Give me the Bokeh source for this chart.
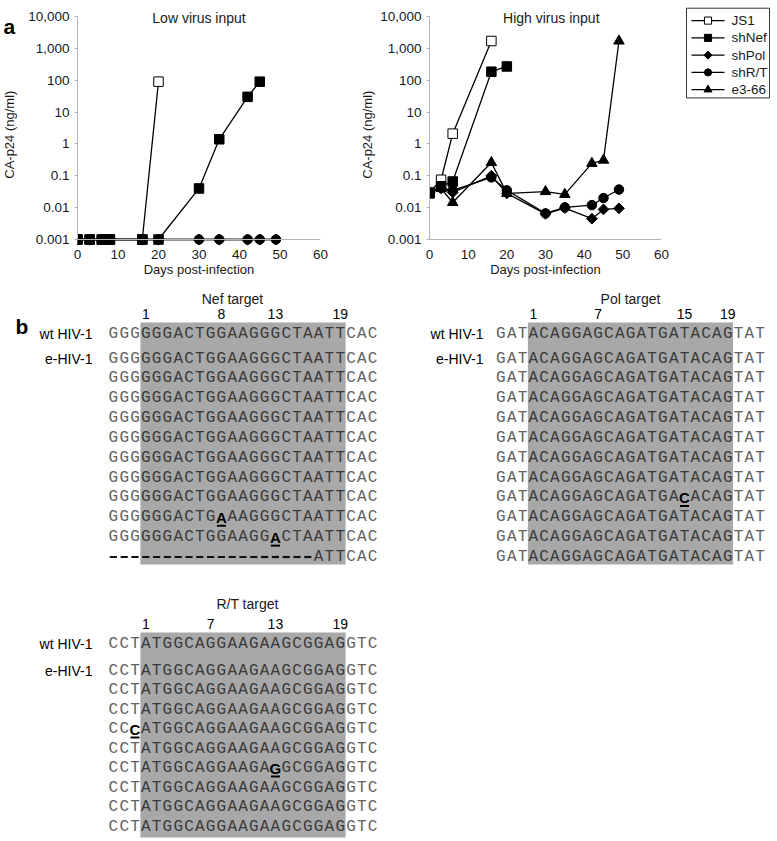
import math
from bokeh.plotting import figure
from bokeh.models import Range1d, FixedTicker, CustomJSTickFormatter, Label, Span
from bokeh.layouts import column, row
from bokeh.embed import file_html
from bokeh.resources import INLINE
from bokeh.core.properties import value

SANS = "Liberation Sans"
MONO = "Liberation Mono"
TXT = "#1a1a1a"
AXIS_GRAY = "#b4b4b4"

# ------------------------------------------------------------------ data
series_names = ["JS1", "shNef", "shPol", "shR/T", "e3-66"]
series_markers = ["square", "square", "diamond", "circle", "triangle"]
series_fills = ["white", "black", "black", "black", "black"]

ytick_vals = [0.001, 0.01, 0.1, 1, 10, 100, 1000, 10000]
ytick_labels = ["0.001", "0.01", "0.1", "1", "10", "100", "1,000", "10,000"]
xtick_vals = [0, 10, 20, 30, 40, 50, 60]

# Low virus input
low_js1_days = [0, 3, 6, 8, 16, 20]
low_js1_vals = [0.001, 0.001, 0.001, 0.001, 0.001, 90]
low_shnef_days = [0, 3, 6, 8, 16, 20, 30, 35, 42, 45]
low_shnef_vals = [0.001, 0.001, 0.001, 0.001, 0.001, 0.001, 0.04, 1.4, 30, 90]
low_shpol_days = [0, 3, 6, 8, 16, 20, 30, 35, 42, 45, 49]
low_shpol_vals = [0.001, 0.001, 0.001, 0.001, 0.001, 0.001, 0.001, 0.001, 0.001, 0.001, 0.001]
low_shrt_days = [0, 3, 6, 8, 16, 20, 30, 35, 42, 45, 49]
low_shrt_vals = [0.001, 0.001, 0.001, 0.001, 0.001, 0.001, 0.001, 0.001, 0.001, 0.001, 0.001]

# High virus input
high_js1_days = [0, 3, 6, 16]
high_js1_vals = [0.03, 0.075, 2.1, 1700]
high_shnef_days = [0, 3, 6, 16, 20]
high_shnef_vals = [0.028, 0.047, 0.066, 185, 270]
high_shpol_days = [0, 3, 6, 16, 20, 30, 35, 42, 45, 49]
high_shpol_vals = [0.03, 0.04, 0.03, 0.1, 0.028, 0.0064, 0.0097, 0.0045, 0.0088, 0.0095]
high_shrt_days = [0, 3, 6, 16, 20, 30, 35, 42, 45, 49]
high_shrt_vals = [0.03, 0.042, 0.035, 0.089, 0.035, 0.0066, 0.0102, 0.012, 0.02, 0.037]
high_e366_days = [0, 3, 6, 16, 20, 30, 35, 42, 45, 49]
high_e366_vals = [0.03, 0.04, 0.0145, 0.26, 0.028, 0.032, 0.026, 0.245, 0.31, 1700]

# Sequences (panel b)
nef_wt = "GGGGGGACTGGAAGGGCTAATTCAC"
nef_rows = ["GGGGGGACTGGAAGGGCTAATTCAC"] * 8 + [
    "GGGGGGACTGAAAGGGCTAATTCAC",
    "GGGGGGACTGGAAGGACTAATTCAC",
    "-------------------ATTCAC",
]
nef_numbers = [1, 8, 13, 19]

pol_wt = "GATACAGGAGCAGATGATACAGTAT"
pol_rows = ["GATACAGGAGCAGATGATACAGTAT"] * 7 + [
    "GATACAGGAGCAGATGACACAGTAT",
] + ["GATACAGGAGCAGATGATACAGTAT"] * 3
pol_numbers = [1, 7, 15, 19]

rt_wt = "CCTATGGCAGGAAGAAGCGGAGGTC"
rt_rows = ["CCTATGGCAGGAAGAAGCGGAGGTC"] * 3 + [
    "CCCATGGCAGGAAGAAGCGGAGGTC",
    "CCTATGGCAGGAAGAAGCGGAGGTC",
    "CCTATGGCAGGAAGAGGCGGAGGTC",
] + ["CCTATGGCAGGAAGAAGCGGAGGTC"] * 3
rt_numbers = [1, 7, 13, 19]

low_data = {
    "JS1": (low_js1_days, low_js1_vals),
    "shNef": (low_shnef_days, low_shnef_vals),
    "shPol": (low_shpol_days, low_shpol_vals),
    "shR/T": (low_shrt_days, low_shrt_vals),
}
high_data = {
    "JS1": (high_js1_days, high_js1_vals),
    "shNef": (high_shnef_days, high_shnef_vals),
    "shPol": (high_shpol_days, high_shpol_vals),
    "shR/T": (high_shrt_days, high_shrt_vals),
    "e3-66": (high_e366_days, high_e366_vals),
}

# marker style: (bokeh marker, size, angle)
MSTYLE = {"square": ("square", 9.5, 0.0), "diamond": ("square", 7.6, math.pi / 4),
          "circle": ("circle", 9.5, 0.0), "triangle": ("triangle", 10.5, 0.0)}
DRAW_ORDER = ["shPol", "shR/T", "e3-66", "JS1", "shNef"]

ROW1_H = 282
DEC_PX = 31.86                     # pixels per decade
Y_TOP = 4 + 10 / DEC_PX            # frame extends 10px above the 10,000 tick
Y_BOT = -3 - 8 / DEC_PX            # and 8px below the 0.001 axis


def chart(width, left, right, title, title_x, data):
    p = figure(width=width, height=ROW1_H, y_axis_type="log",
               x_range=Range1d(0, 60), y_range=Range1d(10 ** Y_BOT, 10 ** Y_TOP),
               output_backend="svg", toolbar_location=None, tools="",
               min_border_left=left, min_border_right=right,
               min_border_top=6, min_border_bottom=35,
               background_fill_color="white", border_fill_color="white",
               outline_line_color=None)
    p.grid.visible = False
    p.yaxis.ticker = FixedTicker(ticks=ytick_vals)
    p.yaxis.bounds = (ytick_vals[0], ytick_vals[-1])
    p.yaxis.formatter = CustomJSTickFormatter(
        args=dict(vals=ytick_vals, labs=ytick_labels),
        code="const i = vals.findIndex(v => Math.abs(Math.log10(v) - Math.log10(tick)) < 1e-6);"
             "return i >= 0 ? labs[i] : '';")
    p.xaxis.ticker = FixedTicker(ticks=xtick_vals)
    for ax in p.axis:
        ax.minor_tick_line_color = None
        ax.axis_line_color = AXIS_GRAY
        ax.major_tick_line_color = AXIS_GRAY
        ax.major_tick_out = 3
        ax.major_tick_in = 0
        ax.major_label_text_font = SANS
        ax.major_label_text_font_size = "13.5px"
        ax.major_label_text_color = TXT
        ax.major_label_standoff = 5
        ax.axis_label_text_font = SANS
        ax.axis_label_text_font_size = "13px"
        ax.axis_label_text_font_style = "normal"
        ax.axis_label_text_color = TXT
    # x axis line is drawn at 0.001 (inside the frame); the axis itself only carries labels
    p.xaxis.axis_line_color = None
    p.xaxis.major_tick_line_color = None
    p.xaxis.major_tick_out = 0
    p.xaxis.major_label_standoff = 2
    p.xaxis.axis_label = "Days post-infection"
    p.xaxis.axis_label_standoff = 0
    p.add_layout(Span(location=ytick_vals[0], dimension="width",
                      line_color=AXIS_GRAY, line_width=1))

    for name in DRAW_ORDER:
        if name in data:
            d, v = data[name]
            p.line(d, v, line_color="black", line_width=1.3)
    for name in DRAW_ORDER:
        if name in data:
            d, v = data[name]
            k = series_names.index(name)
            mk, sz, ang = MSTYLE[series_markers[k]]
            p.scatter(d, v, marker=mk, size=sz, angle=ang,
                      fill_color=series_fills[k], line_color="black", line_width=1)
    p.text(x=[title_x], y=[10 ** (4 - 2 / DEC_PX)], text=[title], text_align="center",
           text_baseline="middle", text_font=value(SANS), text_font_size="14px",
           text_color=TXT)
    return p


def strip(x0, x1, ylab_x, letter=None):
    """narrow figure holding the rotated y-axis title (and panel letter)"""
    s = figure(width=x1 - x0, height=ROW1_H, x_range=Range1d(x0, x1),
               y_range=Range1d(ROW1_H, 0), output_backend="svg", toolbar_location=None,
               tools="", min_border=0, x_axis_location=None, y_axis_location=None,
               outline_line_color=None, background_fill_color="white",
               border_fill_color="white")
    s.grid.visible = False
    s.text(x=[ylab_x], y=[150], text=["CA-p24 (ng/ml)"], angle=math.pi / 2,
           text_font=value(SANS), text_font_size="13px", text_color=TXT,
           text_align="center", text_baseline="middle")
    if letter:
        s.text(x=[x0 + 3], y=[23], text=[letter], text_font=value(SANS),
               text_font_size="21px", text_font_style="bold", text_color="black",
               text_align="left", text_baseline="alphabetic")
    return s


a_fig = strip(0, 20, 9, "a")
p_low = chart(340, 57, 40, "Low virus input", 30, low_data)
lab2 = strip(360, 376, 367)
p_high = chart(305, 53, 20, "High virus input", 31.5, high_data)

# ---------------------------------------------------------------- legend
leg = figure(width=96, height=ROW1_H, x_range=Range1d(681, 777), y_range=Range1d(ROW1_H, 0),
             output_backend="svg", toolbar_location=None, tools="",
             min_border=0, x_axis_location=None, y_axis_location=None,
             outline_line_color=None, background_fill_color="white",
             border_fill_color="white")
leg.grid.visible = False
leg.quad(left=[686], right=[769], top=[2], bottom=[107], fill_color=None,
         line_color="#333333", line_width=1)
leg_y = [16.5 + 20.2 * i for i in range(len(series_names))]
leg.segment(x0=[691] * 5, y0=leg_y, x1=[724] * 5, y1=leg_y, line_color="black", line_width=1.3)
for i, name in enumerate(series_names):
    mk, sz, ang = MSTYLE[series_markers[i]]
    leg.scatter([707.5], [leg_y[i]], marker=mk, size=sz * 0.75, angle=ang,
                fill_color=series_fills[i], line_color="black", line_width=1)
leg.text(x=[731] * 5, y=leg_y, text=series_names, text_font=value(SANS),
         text_font_size="13.5px", text_color=TXT, text_align="left", text_baseline="middle")

# ---------------------------------------------------------------- panel b
bot = figure(width=777, height=841 - ROW1_H, x_range=Range1d(0, 777),
             y_range=Range1d(841, ROW1_H),
             output_backend="svg", toolbar_location=None, tools="",
             min_border=0, x_axis_location=None, y_axis_location=None,
             outline_line_color=None, background_fill_color="white",
             border_fill_color="white")
bot.grid.visible = False

CW = 10.8
BOX = "#a8a8a8"


def draw_block(p, wt, rows, numbers, title, x0, title_x, title_y, num_y,
               wt_y, e_y0, step, lab_right, box_top, box_bottom):
    box_l = x0 + 3 * CW
    box_r = box_l + 19 * CW
    p.quad(left=[box_l], right=[box_r], top=[box_top], bottom=[box_bottom],
           fill_color=BOX, line_color=None)
    p.text(x=[title_x], y=[title_y], text=[title], text_font=value(SANS),
           text_font_size="14px", text_color=TXT, text_align="center", text_baseline="middle")
    p.text(x=[box_l + (n - 0.5) * CW for n in numbers], y=[num_y] * len(numbers),
           text=[str(n) for n in numbers], text_font=value(SANS), text_font_size="14px",
           text_color="black", text_align="center", text_baseline="middle")
    p.text(x=[lab_right, lab_right], y=[wt_y, e_y0], text=["wt HIV-1", "e-HIV-1"],
           text_font=value(SANS), text_font_size="14px", text_color="black",
           text_align="right", text_baseline="middle")
    all_rows = [wt] + rows
    ys = [wt_y] + [e_y0 + i * step for i in range(len(rows))]
    nx, ny, nt, nc = [], [], [], []
    mx, my, mt = [], [], []
    dx, dy = [], []
    for r, y in zip(all_rows, ys):
        for i, ch in enumerate(r):
            x = x0 + (i + 0.5) * CW
            if ch == "-":
                dx.append(x); dy.append(y)
            elif ch != wt[i]:
                mx.append(x); my.append(y); mt.append(ch)
            else:
                nx.append(x); ny.append(y); nt.append(ch)
                nc.append("#3a3a3a" if 3 <= i < 22 else "#626262")
    p.text(x=nx, y=ny, text=nt, text_font=value(MONO), text_font_size="16px",
           text_color=nc, text_align="center", text_baseline="middle")
    if mx:
        p.text(x=mx, y=my, text=mt, text_font=value(SANS), text_font_size="15px",
               text_font_style="bold", text_color="black", text_align="center",
               text_baseline="middle")
        p.segment(x0=[x - 4.5 for x in mx], y0=[y + 8.5 for y in my],
                  x1=[x + 4.5 for x in mx], y1=[y + 8.5 for y in my],
                  line_color="black", line_width=2)
    if dx:
        p.segment(x0=[x - 3.6 for x in dx], y0=dy, x1=[x + 3.6 for x in dx], y1=dy,
                  line_color="#111111", line_width=2.2)


draw_block(bot, nef_wt, nef_rows, nef_numbers, "Nef target", 107.5, 232, 298, 313,
           333, 358, 19.85, 92, 322, 564)
draw_block(bot, pol_wt, pol_rows, pol_numbers, "Pol target", 495, 630, 298, 313,
           333, 358, 19.85, 483, 322, 564)
draw_block(bot, rt_wt, rt_rows, rt_numbers, "R/T target", 107.5, 247, 603, 623,
           643, 670, 19.5, 92, 632, 837)
bot.text(x=[15], y=[326], text=["b"], text_font=value(SANS), text_font_size="21px",
         text_font_style="bold", text_color="black", text_align="left",
         text_baseline="alphabetic")

layout = column(row(a_fig, p_low, lab2, p_high, leg, spacing=0), bot, spacing=0)
open("out.html", "w").write(file_html(layout, INLINE))
